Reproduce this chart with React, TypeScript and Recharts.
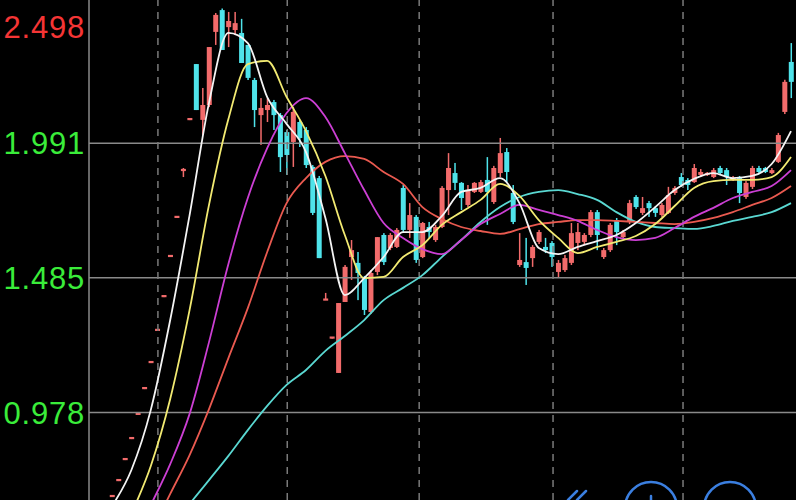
import React from 'react';
import { ComposedChart, Bar, Line, XAxis, YAxis, ReferenceLine } from 'recharts';

// ---- candle data (one entry per trading day) ----
const openP = [
  0.664, 0.724, 0.803, 0.882, 0.973, 1.070, 1.168, 1.289, 1.416, 1.567,
  1.714, 1.887, 2.082, 2.289, 2.079, 2.135, 2.410, 2.492, 2.428, 2.417,
  2.406, 2.361, 2.229, 2.097, 2.116, 2.146, 2.097, 2.033, 1.996, 2.071,
  2.041, 1.902, 1.860, 1.403, 1.260, 1.127, 1.394, 1.563, 1.541, 1.484,
  1.356, 1.507, 1.646, 1.597, 1.601, 1.823, 1.665, 1.714, 1.563, 1.676,
  1.627, 1.676, 1.815, 1.879, 1.842, 1.759, 1.808, 1.808, 1.853, 1.770,
  1.879, 1.958, 1.804, 1.533, 1.544, 1.559, 1.620, 1.601, 1.616, 1.507,
  1.514, 1.541, 1.616, 1.620, 1.646, 1.732, 1.563, 1.589, 1.702, 1.638,
  1.695, 1.789, 1.729, 1.766, 1.747, 1.721, 1.729, 1.804, 1.864, 1.853,
  1.845, 1.872, 1.872, 1.864, 1.898, 1.890, 1.853, 1.860, 1.789, 1.827,
  1.898, 1.898, 1.879, 1.921, 2.109, 2.297,
];
const highP = [
  0.664, 0.724, 0.803, 0.882, 0.973, 1.070, 1.168, 1.289, 1.416, 1.567,
  1.714, 1.898, 2.082, 2.289, 2.199, 2.353, 2.481, 2.498, 2.485, 2.485,
  2.459, 2.361, 2.237, 2.161, 2.161, 2.154, 2.105, 2.041, 2.127, 2.079,
  2.052, 1.909, 1.868, 1.428, 1.260, 1.390, 1.533, 1.627, 1.582, 1.492,
  1.514, 1.638, 1.653, 1.653, 1.672, 1.834, 1.766, 1.721, 1.695, 1.695,
  1.684, 1.830, 1.954, 1.917, 1.845, 1.834, 1.845, 1.853, 1.939, 1.906,
  2.011, 1.973, 1.834, 1.653, 1.635, 1.608, 1.665, 1.635, 1.623, 1.552,
  1.571, 1.691, 1.691, 1.653, 1.740, 1.740, 1.597, 1.691, 1.710, 1.665,
  1.778, 1.796, 1.789, 1.774, 1.755, 1.766, 1.827, 1.830, 1.879, 1.860,
  1.913, 1.894, 1.883, 1.898, 1.906, 1.898, 1.868, 1.868, 1.849, 1.906,
  1.906, 1.902, 1.898, 2.030, 2.230, 2.368,
];
const lowP = [
  0.664, 0.724, 0.803, 0.882, 0.973, 1.070, 1.168, 1.289, 1.416, 1.567,
  1.714, 1.864, 2.082, 2.116, 2.022, 2.127, 2.361, 2.342, 2.353, 2.398,
  2.293, 2.229, 2.052, 1.985, 2.071, 2.041, 1.883, 1.872, 1.902, 1.977,
  1.898, 1.721, 1.559, 1.403, 1.260, 1.127, 1.394, 1.477, 1.401, 1.345,
  1.349, 1.495, 1.533, 1.589, 1.597, 1.657, 1.635, 1.541, 1.559, 1.635,
  1.620, 1.672, 1.721, 1.815, 1.740, 1.751, 1.804, 1.804, 1.684, 1.763,
  1.864, 1.845, 1.687, 1.526, 1.458, 1.526, 1.612, 1.578, 1.526, 1.488,
  1.507, 1.533, 1.589, 1.612, 1.638, 1.589, 1.556, 1.582, 1.608, 1.631,
  1.687, 1.744, 1.721, 1.714, 1.714, 1.714, 1.725, 1.797, 1.827, 1.815,
  1.842, 1.864, 1.868, 1.860, 1.872, 1.834, 1.849, 1.766, 1.782, 1.819,
  1.875, 1.879, 1.875, 1.917, 2.101, 2.161,
];
const closeP = [
  0.664, 0.724, 0.803, 0.882, 0.973, 1.070, 1.168, 1.289, 1.416, 1.567,
  1.714, 1.894, 2.082, 2.116, 2.135, 2.353, 2.474, 2.342, 2.451, 2.443,
  2.293, 2.237, 2.116, 2.124, 2.135, 2.097, 1.939, 1.947, 2.109, 2.011,
  1.909, 1.729, 1.559, 1.403, 1.260, 1.390, 1.526, 1.589, 1.503, 1.364,
  1.503, 1.638, 1.544, 1.646, 1.665, 1.665, 1.721, 1.552, 1.691, 1.657,
  1.676, 1.823, 1.898, 1.842, 1.785, 1.815, 1.842, 1.845, 1.808, 1.898,
  1.954, 1.883, 1.695, 1.552, 1.522, 1.601, 1.657, 1.589, 1.563, 1.541,
  1.559, 1.653, 1.657, 1.646, 1.732, 1.646, 1.589, 1.684, 1.657, 1.657,
  1.766, 1.751, 1.747, 1.747, 1.729, 1.759, 1.796, 1.823, 1.834, 1.834,
  1.898, 1.883, 1.879, 1.890, 1.879, 1.864, 1.860, 1.804, 1.842, 1.898,
  1.883, 1.883, 1.890, 2.022, 2.222, 2.222,
];

// ---- moving averages, read at every third day ----
const maIdx = [
  0, 3, 6, 9, 12, 15, 18, 21, 24, 27, 30, 33, 36, 39, 42, 45, 48, 51,
  54, 57, 60, 63, 66, 69, 72, 75, 78, 81, 84, 87, 90, 93, 96, 99, 102, 105,
];
const ma5 = [
  0.626, 0.762, 0.988, 1.326, 1.721, 2.143, 2.406, 2.368, 2.165, 2.064,
  1.958, 1.710, 1.420, 1.484, 1.563, 1.657, 1.657, 1.717, 1.808, 1.823,
  1.860, 1.766, 1.597, 1.574, 1.601, 1.623, 1.646, 1.691, 1.751, 1.815,
  1.857, 1.879, 1.860, 1.868, 1.913, 2.037,
];
const ma10 = [
  0.423, 0.596, 0.777, 1.029, 1.364, 1.759, 2.082, 2.289, 2.301, 2.165,
  2.037, 1.868, 1.646, 1.484, 1.488, 1.563, 1.608, 1.684, 1.732, 1.778,
  1.838, 1.793, 1.702, 1.635, 1.578, 1.601, 1.620, 1.642, 1.687, 1.755,
  1.823, 1.849, 1.853, 1.853, 1.864, 1.939,
];
const ma20 = [
  0.348, 0.480, 0.630, 0.784, 0.973, 1.243, 1.537, 1.785, 1.973, 2.105,
  2.161, 2.090, 1.954, 1.815, 1.691, 1.635, 1.593, 1.574, 1.627, 1.687,
  1.725, 1.759, 1.740, 1.721, 1.699, 1.665, 1.638, 1.627, 1.635, 1.672,
  1.714, 1.748, 1.785, 1.808, 1.830, 1.890,
];
const ma30 = [
  0.235, 0.382, 0.525, 0.672, 0.818, 0.991, 1.183, 1.371, 1.582, 1.766,
  1.860, 1.921, 1.943, 1.932, 1.883, 1.838, 1.751, 1.706, 1.676, 1.661,
  1.650, 1.668, 1.687, 1.695, 1.702, 1.702, 1.699, 1.695, 1.691, 1.687,
  1.695, 1.710, 1.732, 1.759, 1.785, 1.830,
];
const ma60 = [
  0.273, 0.359, 0.450, 0.540, 0.634, 0.724, 0.815, 0.912, 1.003, 1.082,
  1.138, 1.210, 1.266, 1.326, 1.401, 1.447, 1.495, 1.563, 1.627, 1.695,
  1.751, 1.789, 1.808, 1.815, 1.800, 1.778, 1.732, 1.695, 1.676, 1.672,
  1.669, 1.680, 1.699, 1.714, 1.732, 1.766,
];

const yTicks = [0.978, 1.485, 1.991, 2.498];
const gridPrices = [0.978, 1.485, 1.991];
const monthLines = [7.1, 27.1, 47.5, 68.2, 88.3];

const Y_DOMAIN: [number, number] = [0.649, 2.530];
const X_DOMAIN: [number, number] = [-3.557, 105.77];

const UP = '#f26b6b';
const DOWN = '#4fe3ea';
const RED_LABEL = '#f53535';
const GREEN_LABEL = '#3aec3a';

type Row = { [k: string]: any };
const rows: Row[] = openP.map((o, i) => {
  const c = closeP[i];
  return {
    i,
    o,
    c,
    h: highP[i],
    l: lowP[i],
    wick: [lowP[i], highP[i]],
    body: [Math.min(o, c), Math.max(o, c)],
  };
});
maIdx.forEach((idx, k) => {
  Object.assign(rows[idx], {
    ma5: ma5[k],
    ma10: ma10[k],
    ma20: ma20[k],
    ma30: ma30[k],
    ma60: ma60[k],
  });
});

const colorOf = (p: Row) => (p.c >= p.o ? UP : DOWN);

const WickShape = (props: any) => {
  const { x, y, width, height, payload } = props;
  if (x == null || y == null) return null;
  const top = Math.min(y, y + height);
  const h = Math.abs(height);
  return (
    <rect x={x + width / 2 - 0.75} y={top} width={1.5} height={Math.max(h, 1)} fill={colorOf(payload)} />
  );
};

const BodyShape = (props: any) => {
  const { x, y, width, height, payload } = props;
  if (x == null || y == null) return null;
  const top = Math.min(y, y + height);
  const h = Math.abs(height);
  const hh = Math.max(h, 2.2);
  return (
    <rect x={x} y={top - (hh - h) / 2} width={width} height={hh} fill={colorOf(payload)} />
  );
};

const PriceTick = (props: any) => {
  const { x, y, payload } = props;
  const isTop = payload.value === yTicks[yTicks.length - 1];
  return (
    <text
      x={x}
      y={isTop ? y + 18 : y}
      dy="0.36em"
      textAnchor="end"
      fill={isTop ? RED_LABEL : GREEN_LABEL}
      fontSize={31}
      letterSpacing={0.8}
      fontFamily="'Liberation Sans', Arial, sans-serif"
    >
      {payload.value.toFixed(3)}
    </text>
  );
};

export default function App() {
  return (
    <div
      style={{
        position: 'fixed',
        left: 0,
        top: 0,
        width: 796,
        height: 500,
        background: '#000',
        overflow: 'hidden',
      }}
    >
      <ComposedChart
        width={796}
        height={500}
        data={rows}
        margin={{ top: 0, right: 0, bottom: 0, left: 0 }}
        style={{ background: '#000' }}
      >
        <XAxis xAxisId="main" dataKey="i" type="number" domain={X_DOMAIN} allowDataOverflow hide />
        <XAxis xAxisId="wk" dataKey="i" type="number" domain={X_DOMAIN} allowDataOverflow hide />
        <XAxis xAxisId="bd" dataKey="i" type="number" domain={X_DOMAIN} allowDataOverflow hide />
        <YAxis
          type="number"
          domain={Y_DOMAIN}
          allowDataOverflow
          ticks={yTicks}
          interval={0}
          width={89}
          tickLine={false}
          tickSize={0}
          tickMargin={4}
          axisLine={{ stroke: '#8a8a8a', strokeWidth: 1.5 }}
          tick={<PriceTick />}
        />
        {gridPrices.map((p) => (
          <ReferenceLine key={'h' + p} xAxisId="main" y={p} stroke="#8a8a8a" strokeWidth={1.5} />
        ))}
        {monthLines.map((m) => (
          <ReferenceLine
            key={'v' + m}
            xAxisId="main"
            x={m}
            stroke="#7a7a7a"
            strokeWidth={1.5}
            strokeDasharray="7 6"
          />
        ))}
        <Line xAxisId="main" dataKey="ma60" type="monotone" stroke="#5ad8d2" strokeWidth={1.8} dot={false} connectNulls isAnimationActive={false} />
        <Line xAxisId="main" dataKey="ma30" type="monotone" stroke="#ea5a50" strokeWidth={1.8} dot={false} connectNulls isAnimationActive={false} />
        <Line xAxisId="main" dataKey="ma20" type="monotone" stroke="#cc3fd4" strokeWidth={1.8} dot={false} connectNulls isAnimationActive={false} />
        <Line xAxisId="main" dataKey="ma10" type="monotone" stroke="#f2ea72" strokeWidth={1.8} dot={false} connectNulls isAnimationActive={false} />
        <Line xAxisId="main" dataKey="ma5" type="monotone" stroke="#f4f4f4" strokeWidth={1.8} dot={false} connectNulls isAnimationActive={false} />
        <Bar xAxisId="wk" dataKey="wick" barSize={5} shape={<WickShape />} isAnimationActive={false} />
        <Bar xAxisId="bd" dataKey="body" barSize={5} shape={<BodyShape />} isAnimationActive={false} />
      </ComposedChart>
      <svg
        width={796}
        height={500}
        style={{ position: 'absolute', left: 0, top: 0, pointerEvents: 'none' }}
      >
        <g stroke="#3b7fe0" strokeWidth={2.5} fill="none" strokeLinecap="round">
          <line x1={577} y1={491} x2={568} y2={500} />
          <line x1={586} y1={491} x2={577} y2={500} />
          <circle cx={651} cy={508} r={26} />
          <line x1={651} y1={496} x2={651} y2={500} />
          <circle cx={730} cy={508} r={26} />
        </g>
      </svg>
    </div>
  );
}
